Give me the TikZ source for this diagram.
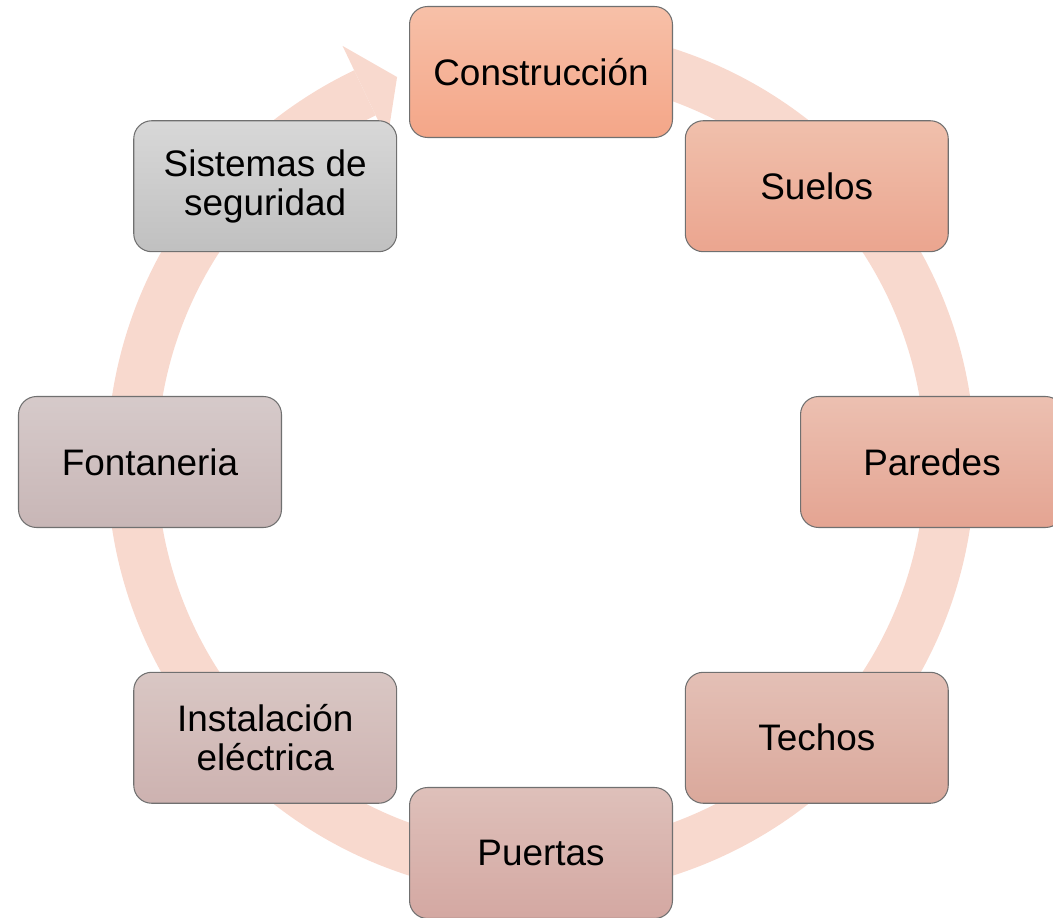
\documentclass[tikz,border=0pt]{standalone}
\usepackage{fontspec}
\setmainfont{Liberation Sans}
\usetikzlibrary{calc}
\definecolor{ringcol}{RGB}{248,217,206}
\definecolor{edgecol}{RGB}{112,112,112}
\definecolor{cAt}{RGB}{247,192,168}\definecolor{cAb}{RGB}{244,166,136}
\definecolor{cBt}{RGB}{240,192,172}\definecolor{cBb}{RGB}{235,165,143}
\definecolor{cCt}{RGB}{236,192,177}\definecolor{cCb}{RGB}{228,164,146}
\definecolor{cDt}{RGB}{228,192,182}\definecolor{cDb}{RGB}{218,168,155}
\definecolor{cEt}{RGB}{222,192,186}\definecolor{cEb}{RGB}{212,168,162}
\definecolor{cFt}{RGB}{217,199,196}\definecolor{cFb}{RGB}{205,178,176}
\definecolor{cGt}{RGB}{214,202,202}\definecolor{cGb}{RGB}{200,182,182}
\definecolor{cHt}{RGB}{216,216,216}\definecolor{cHb}{RGB}{192,192,192}
\tikzset{
  stagebox/.style={draw=edgecol, line width=0.6pt, rounded corners=0.36cm,
    minimum width=5.26cm, minimum height=2.62cm, inner sep=0pt,
    align=center, font=\fontsize{21}{22}\selectfont, text=black},
}
\begin{document}
\begin{tikzpicture}[x=0.02cm,y=0.02cm]
\useasboundingbox (0,0) rectangle (1053,917);
\clip (0,0) rectangle (1053,917);
\coordinate (c) at (541,455);
% ring
\begin{scope}[shift={(c)}]
\fill[ringcol] (90:434) arc[start angle=90, end angle=-244.5, radius=434]
  -- (-244.5:384) arc[start angle=-244.5, end angle=90, radius=384] -- cycle;
\fill[ringcol] (115.5:461) -- (110.5:411) -- (115.5:357) -- cycle;
\end{scope}
% stages
\node[stagebox, top color=cAt, bottom color=cAb] (n1) at ($(c)+(90:390)$) {Construcción};
\node[stagebox, top color=cBt, bottom color=cBb] (n2) at ($(c)+(45:390)$) {Suelos};
\node[stagebox, top color=cCt, bottom color=cCb] (n3) at ($(c)+(0:391)$) {Paredes};
\node[stagebox, top color=cDt, bottom color=cDb] (n4) at ($(c)+(-45:390)$) {Techos};
\node[stagebox, top color=cEt, bottom color=cEb] (n5) at ($(c)+(-90:391)$) {Puertas};
\node[stagebox, top color=cFt, bottom color=cFb] (n6) at ($(c)+(-135:390)$) {Instalación\\eléctrica};
\node[stagebox, top color=cGt, bottom color=cGb] (n7) at ($(c)+(180:391)$) {Fontaneria};
\node[stagebox, top color=cHt, bottom color=cHb] (n8) at ($(c)+(135:390)$) {Sistemas de\\seguridad};
\end{tikzpicture}
\end{document}
